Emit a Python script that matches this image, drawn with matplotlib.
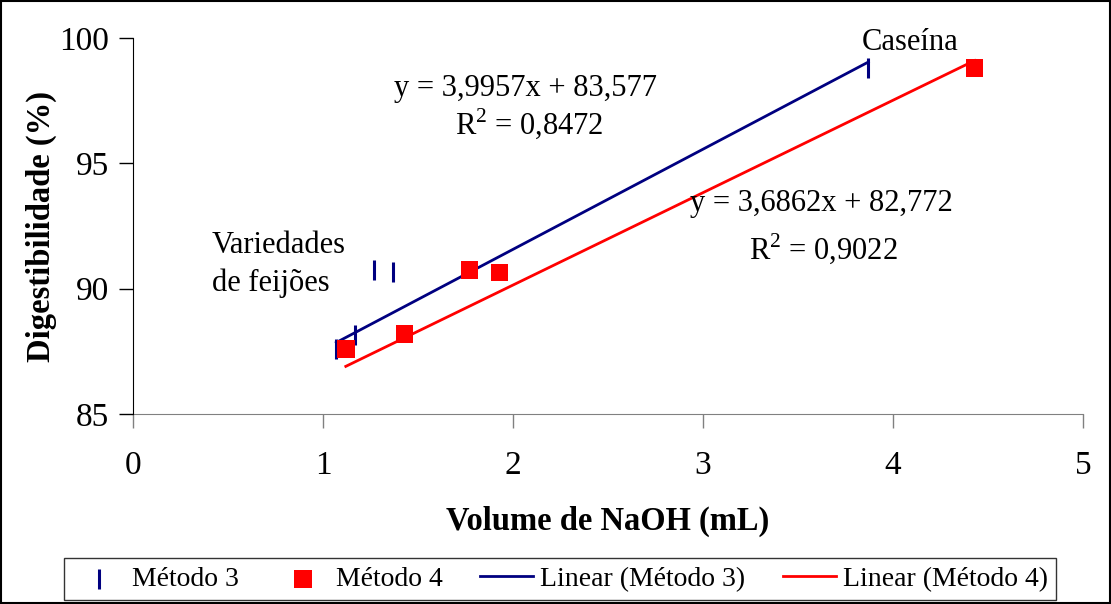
import numpy as np
import matplotlib
matplotlib.use('Agg')
import matplotlib.pyplot as plt
from matplotlib.patches import Rectangle

plt.rcParams['font.family'] = ['Liberation Serif', 'DejaVu Serif']
plt.rcParams['mathtext.fontset'] = 'custom'
plt.rcParams['mathtext.rm'] = 'Liberation Serif'

# data
x_m3 = [1.07, 1.17, 1.27, 1.37, 3.87]
y_m3 = [87.6, 88.15, 90.75, 90.65, 98.8]
x_m4 = [1.12, 1.43, 1.77, 1.93, 4.43]
y_m4 = [87.6, 88.2, 90.75, 90.65, 98.8]

# fitted trend lines as written on the chart
slope_m3, icpt_m3 = 3.9957, 83.577
slope_m4, icpt_m4 = 3.6862, 82.772

fig = plt.figure(figsize=(11.11, 6.04), dpi=100)
ax = fig.add_axes([133/1111, 1-414/604, 950/1111, 376/604])

ax.scatter(x_m3, y_m3, marker='|', s=200, linewidths=2.2, color='#000080',
           label='Método 3', zorder=3)
ax.scatter(x_m4, y_m4, marker='s', s=160, color='#ff0000', edgecolors='none',
           label='Método 4', zorder=3)

xl3 = np.array([min(x_m3), max(x_m3)])
xl4 = np.array([min(x_m4), max(x_m4)])
ax.plot(xl3, slope_m3*xl3 + icpt_m3, color='#000080', lw=2,
        label='Linear (Método 3)')
ax.plot(xl4, slope_m4*xl4 + icpt_m4, color='#ff0000', lw=2,
        label='Linear (Método 4)')

ax.set_xlim(0, 5)
ax.set_ylim(85, 100)
ax.set_xticks(range(0, 6))
ax.set_yticks([85, 90, 95, 100])
ax.spines['top'].set_visible(False)
ax.spines['right'].set_visible(False)
ax.spines['bottom'].set_color('#808080')
ax.spines['bottom'].set_zorder(1)
ax.tick_params(axis='both', direction='out', length=10, width=1, labelsize=24)
ax.tick_params(axis='x', pad=16, color='#808080')
ax.tick_params(axis='y', pad=7)

ax.set_xlabel('Volume de NaOH (mL)', fontsize=23.5, fontweight='bold', labelpad=18)
ax.set_ylabel('Digestibilidade (%)', fontsize=23.5, fontweight='bold', labelpad=2)

ax.text(2.068, 98.0, 'y = 3,9957x + 83,577', fontsize=22, ha='center', va='center')
ax.text(2.084, 96.6, 'R$^2$ = 0,8472', fontsize=22, ha='center', va='center')
ax.text(3.621, 93.4, 'y = 3,6862x + 82,772', fontsize=22, ha='center', va='center')
ax.text(3.632, 91.6, 'R$^2$ = 0,9022', fontsize=22, ha='center', va='center')
ax.text(0.416, 91.74, 'Variedades', fontsize=22, ha='left', va='center')
ax.text(0.416, 90.23, 'de feijões', fontsize=22, ha='left', va='center')
ax.text(4.09, 99.84, 'Caseína', fontsize=22, ha='center', va='center')

leg = fig.legend(loc='lower center', bbox_to_anchor=(0.504, 0.006), ncol=4,
                 fontsize=20, frameon=True, fancybox=False, edgecolor='black',
                 handlelength=1.9, handletextpad=0.25, columnspacing=1.35,
                 borderpad=0.3, borderaxespad=0)
leg.get_frame().set_linewidth(1)

fig.patches.append(Rectangle((0.001, 0.001), 0.998, 0.997, transform=fig.transFigure,
                             fill=False, edgecolor='black', lw=1.5))

fig.savefig('out.png', dpi=100)
